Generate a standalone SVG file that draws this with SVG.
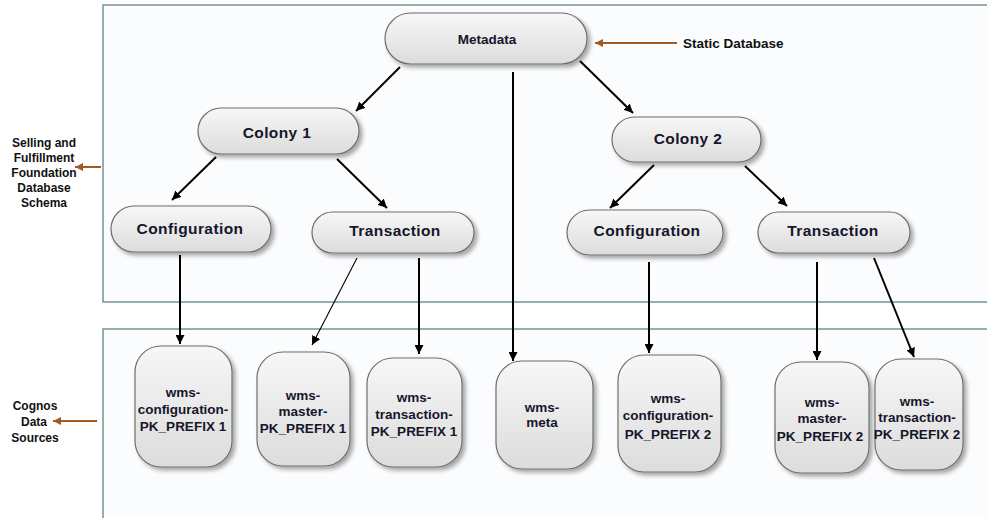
<svg xmlns="http://www.w3.org/2000/svg" width="987" height="518" viewBox="0 0 987 518">
<style>
.panel{fill:#fbfcfe;stroke:#5d8686;stroke-width:1.3}
.pill{fill:url(#g);stroke:#6e6e6e;stroke-width:1.2;filter:url(#sh)}
.lbl{font-family:"Liberation Sans",Arial,sans-serif;font-weight:bold;fill:#16162a;text-anchor:middle}
.big{font-size:15.5px;letter-spacing:0.4px}
.mid{font-size:13.5px}
.sm{font-size:13.5px}
.side{font-family:"Liberation Sans",Arial,sans-serif;font-weight:bold;font-size:12px;fill:#111;text-anchor:middle}
.side2{font-family:"Liberation Sans",Arial,sans-serif;font-weight:bold;font-size:13.5px;fill:#111}
.c{stroke:#000;stroke-width:2;fill:none;marker-end:url(#ah)}
.thin{stroke-width:1.1}
.b{stroke:#a35a1c;stroke-width:2;fill:none;marker-end:url(#bh)}
</style>
<defs>
<linearGradient id="g" x1="0" y1="0" x2="0" y2="1">
<stop offset="0" stop-color="#f7f7f7"/>
<stop offset="1" stop-color="#dcdcdc"/>
</linearGradient>
<filter id="sh" x="-20%" y="-20%" width="140%" height="150%">
<feDropShadow dx="3" dy="3" stdDeviation="2" flood-color="#000" flood-opacity="0.35"/>
</filter>
<marker id="ah" viewBox="0 0 10 10" refX="10" refY="5" markerWidth="9" markerHeight="9" markerUnits="userSpaceOnUse" orient="auto">
<path d="M0,0 L10,5 L0,10 z" fill="#000"/>
</marker>
<marker id="bh" viewBox="0 0 10 10" refX="10" refY="5" markerWidth="8" markerHeight="8" markerUnits="userSpaceOnUse" orient="auto">
<path d="M0,0 L10,5 L0,10 z" fill="#a35a1c"/>
</marker>
</defs>
<rect width="987" height="518" fill="#fff"/>
<g id="panels">
<rect class="panel" x="103" y="5" width="900" height="297"/>
<rect class="panel" x="103" y="329" width="900" height="200"/>
</g>
<g id="side-labels">
<text class="side" x="44" y="147">Selling and</text>
<text class="side" x="44" y="162">Fulfillment</text>
<text class="side" x="44" y="177">Foundation</text>
<text class="side" x="44" y="192">Database</text>
<text class="side" x="44" y="207">Schema</text>
<text class="side" x="35" y="410">Cognos</text>
<text class="side" x="34" y="426">Data</text>
<text class="side" x="35" y="442">Sources</text>
<text class="side2" x="683" y="48">Static Database</text>
</g>
<g id="n-metadata"><rect class="pill" x="385" y="13" width="202" height="51" rx="25.5"/><text class="lbl mid" x="487" y="43.5">Metadata</text></g>
<g id="n-colony1"><rect class="pill" x="198" y="108" width="161" height="46" rx="23"/><text class="lbl big" x="277" y="137.5">Colony 1</text></g>
<g id="n-colony2"><rect class="pill" x="612" y="117" width="149" height="45" rx="22.5"/><text class="lbl big" x="688" y="144">Colony 2</text></g>
<g id="n-config1"><rect class="pill" x="111" y="206" width="160" height="46" rx="23"/><text class="lbl big" x="190" y="233.5">Configuration</text></g>
<g id="n-trans1"><rect class="pill" x="312" y="212" width="162" height="41" rx="20.5"/><text class="lbl big" x="395" y="235.5">Transaction</text></g>
<g id="n-config2"><rect class="pill" x="567" y="210" width="156" height="45" rx="22.5"/><text class="lbl big" x="647" y="235.5">Configuration</text></g>
<g id="n-trans2"><rect class="pill" x="758" y="212" width="152" height="41" rx="20.5"/><text class="lbl big" x="833" y="235.5">Transaction</text></g>
<g id="n-wms-config1"><rect class="pill" x="135" y="346" width="97" height="121" rx="26"/><text class="lbl sm" x="183" y="397">wms-</text><text class="lbl sm" x="183" y="414">configuration-</text><text class="lbl sm" x="183" y="431">PK_PREFIX 1</text></g>
<g id="n-wms-master1"><rect class="pill" x="257" y="352" width="93" height="114" rx="26"/><text class="lbl sm" x="303" y="400">wms-</text><text class="lbl sm" x="303" y="416">master-</text><text class="lbl sm" x="303" y="433">PK_PREFIX 1</text></g>
<g id="n-wms-trans1"><rect class="pill" x="367" y="358" width="95" height="109" rx="26"/><text class="lbl sm" x="414" y="402">wms-</text><text class="lbl sm" x="414" y="419">transaction-</text><text class="lbl sm" x="414" y="436">PK_PREFIX 1</text></g>
<g id="n-wms-meta"><rect class="pill" x="496" y="361" width="97" height="108" rx="26"/><text class="lbl sm" x="542" y="412">wms-</text><text class="lbl sm" x="542" y="427">meta</text></g>
<g id="n-wms-config2"><rect class="pill" x="618" y="355" width="103" height="117" rx="26"/><text class="lbl sm" x="668" y="403">wms-</text><text class="lbl sm" x="668" y="420">configuration-</text><text class="lbl sm" x="668" y="439">PK_PREFIX 2</text></g>
<g id="n-wms-master2"><rect class="pill" x="775" y="362" width="94" height="111" rx="26"/><text class="lbl sm" x="822" y="407">wms-</text><text class="lbl sm" x="822" y="423">master-</text><text class="lbl sm" x="820" y="441">PK_PREFIX 2</text></g>
<g id="n-wms-trans2"><rect class="pill" x="875" y="359" width="88" height="111" rx="26"/><text class="lbl sm" x="917" y="406">wms-</text><text class="lbl sm" x="917" y="422">transaction-</text><text class="lbl sm" x="917" y="439">PK_PREFIX 2</text></g>
<g id="connectors">
<line class="c" x1="400" y1="67" x2="356" y2="111"/>
<line class="c" x1="580" y1="61" x2="633" y2="113"/>
<line class="c" x1="513" y1="72" x2="513" y2="361"/>
<line class="c" x1="216" y1="157" x2="172" y2="200"/>
<line class="c" x1="337" y1="159" x2="387" y2="208"/>
<line class="c" x1="654" y1="165" x2="610" y2="208"/>
<line class="c" x1="745" y1="166" x2="787" y2="206"/>
<line class="c" x1="180" y1="255" x2="180" y2="344"/>
<line class="c thin" x1="357" y1="258" x2="312" y2="345"/>
<line class="c" x1="419" y1="258" x2="419" y2="354"/>
<line class="c" x1="649" y1="262" x2="649" y2="353"/>
<line class="c" x1="817" y1="262" x2="817" y2="360"/>
<line class="c" x1="874" y1="258" x2="914" y2="357"/>
<line class="b" x1="677" y1="43" x2="595" y2="43"/>
<line class="b" x1="101" y1="167" x2="75" y2="167"/>
<line class="b" x1="97" y1="421" x2="53" y2="421"/>
</g>
</svg>
